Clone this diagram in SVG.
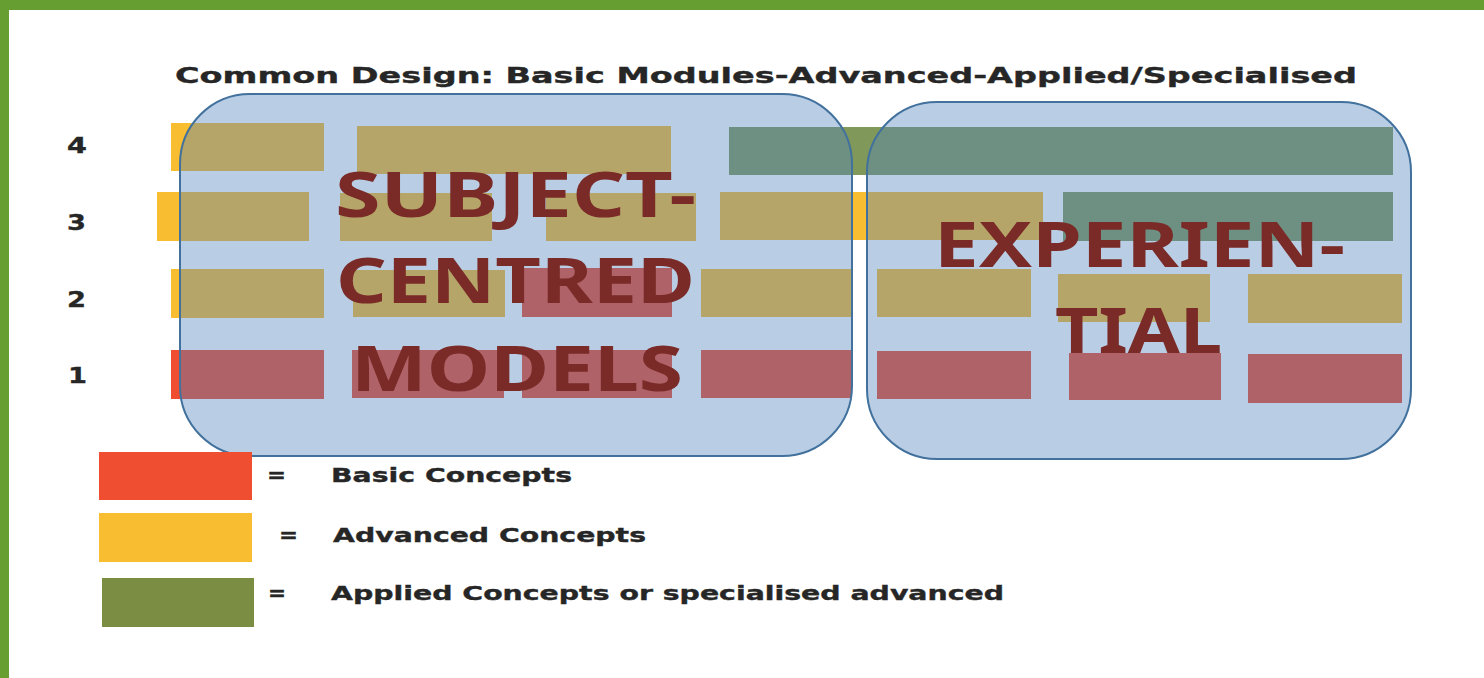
<svg xmlns="http://www.w3.org/2000/svg" width="1484" height="678" viewBox="0 0 1484 678">
<style>
.basic{fill:#ef4f30}
.adv{fill:#f8bd30}
.app{fill:#7b8d42}
.appm{fill:#80995a}
.zone{fill:#4f81bd;fill-opacity:0.4;stroke:#41719c;stroke-width:2}
.big{font-family:"Noto Sans","Liberation Sans",sans-serif;font-weight:700;font-size:62px;fill:#7a2b27}
.sm{font-family:"DejaVu Sans",Verdana,sans-serif;font-weight:700;fill:#262626;stroke:#262626;stroke-width:0.35}
</style>
<rect x="0" y="0" width="1484" height="678" fill="#ffffff"/>
<rect x="0" y="0" width="1484" height="10" fill="#679e32"/>
<rect x="0" y="0" width="9" height="678" fill="#679e32"/>

<g id="title">
<text class="sm" x="175" y="83" font-size="21" textLength="1182" lengthAdjust="spacingAndGlyphs">Common Design: Basic Modules-Advanced-Applied/Specialised</text>
</g>

<g id="row-labels" class="sm" font-size="21">
<text x="67" y="153" textLength="20" lengthAdjust="spacingAndGlyphs">4</text>
<text x="67" y="230" textLength="19" lengthAdjust="spacingAndGlyphs">3</text>
<text x="67" y="307" textLength="19" lengthAdjust="spacingAndGlyphs">2</text>
<text x="68" y="383" textLength="19" lengthAdjust="spacingAndGlyphs">1</text>
</g>

<g id="modules">
<!-- row 4 -->
<rect class="adv" x="171" y="123" width="153" height="48"/>
<rect class="adv" x="357" y="126" width="314" height="48"/>
<rect class="appm" x="729" y="127" width="664" height="48"/>
<!-- row 3 -->
<rect class="adv" x="157" y="192" width="152" height="49"/>
<rect class="adv" x="340" y="193" width="152" height="48"/>
<rect class="adv" x="546" y="193" width="150" height="48"/>
<rect class="adv" x="720" y="192" width="323" height="48"/>
<rect class="appm" x="1063" y="192" width="330" height="49"/>
<!-- row 2 -->
<rect class="adv" x="171" y="269" width="153" height="49"/>
<rect class="adv" x="353" y="270" width="152" height="47"/>
<rect class="basic" x="522" y="268" width="150" height="49"/>
<rect class="adv" x="701" y="269" width="150" height="48"/>
<rect class="adv" x="877" y="269" width="154" height="48"/>
<rect class="adv" x="1058" y="274" width="152" height="48"/>
<rect class="adv" x="1248" y="274" width="154" height="49"/>
<!-- row 1 -->
<rect class="basic" x="171" y="350" width="153" height="49"/>
<rect class="basic" x="352" y="350" width="152" height="48"/>
<rect class="basic" x="522" y="350" width="150" height="48"/>
<rect class="basic" x="701" y="350" width="150" height="48"/>
<rect class="basic" x="877" y="351" width="154" height="48"/>
<rect class="basic" x="1069" y="353" width="152" height="47"/>
<rect class="basic" x="1248" y="354" width="154" height="49"/>
</g>

<g id="subject-centred">
<rect class="zone" x="180" y="94" width="672" height="362" rx="70" ry="70"/>
<text class="big" x="335" y="217" textLength="361" lengthAdjust="spacingAndGlyphs">SUBJECT-</text>
<text class="big" x="336" y="303" textLength="359" lengthAdjust="spacingAndGlyphs">CENTRED</text>
<text class="big" x="351" y="391" textLength="332" lengthAdjust="spacingAndGlyphs">MODELS</text>
</g>

<g id="experiential">
<rect class="zone" x="867" y="102" width="544" height="357" rx="70" ry="70"/>
<text class="big" x="934" y="267" textLength="411" lengthAdjust="spacingAndGlyphs">EXPERIEN-</text>
<text class="big" x="1055" y="353" textLength="167" lengthAdjust="spacingAndGlyphs">TIAL</text>
</g>

<g id="connectors"></g>

<g id="legend-basic">
<rect class="basic" x="99" y="452" width="153" height="48"/>
<text class="sm" x="267" y="482" font-size="19" textLength="19" lengthAdjust="spacingAndGlyphs">=</text>
<text class="sm" x="331" y="482" font-size="19" textLength="241" lengthAdjust="spacingAndGlyphs">Basic Concepts</text>
</g>
<g id="legend-advanced">
<rect class="adv" x="99" y="513" width="153" height="49"/>
<text class="sm" x="279" y="542" font-size="19" textLength="19" lengthAdjust="spacingAndGlyphs">=</text>
<text class="sm" x="333" y="542" font-size="19" textLength="313" lengthAdjust="spacingAndGlyphs">Advanced Concepts</text>
</g>
<g id="legend-applied">
<rect class="app" x="102" y="578" width="152" height="49"/>
<text class="sm" x="268" y="600" font-size="19" textLength="18" lengthAdjust="spacingAndGlyphs">=</text>
<text class="sm" x="331" y="600" font-size="19" textLength="673" lengthAdjust="spacingAndGlyphs">Applied Concepts or specialised advanced</text>
</g>
</svg>
